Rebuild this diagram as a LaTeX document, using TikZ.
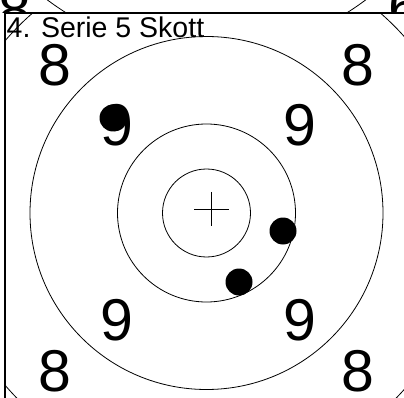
\documentclass[tikz,border=0pt]{standalone}
\usepackage{fontspec}
\setmainfont{Liberation Sans}
\begin{document}
\begin{tikzpicture}[x=1pt,y=-1pt,
  ring/.style={draw=black,line width=0.8pt},
  frameline/.style={draw=black,line width=1.3pt},
  digit/.style={inner sep=0pt,anchor=base,font=\fontsize{59}{59}\selectfont},
  shot/.style={circle,fill=black,inner sep=0pt,minimum size=27pt},
  titletext/.style={inner sep=0pt,anchor=base west,font=\fontsize{28.5}{28.5}\selectfont}]
\useasboundingbox (0,0) rectangle (404,398);
% previous panel (top strip)
\begin{scope}
  \clip (0,0) rectangle (404,13);
  \draw[ring] (206.5,-212) circle (265);
  \node[digit] (p8) at (15,31) {8};
  \node[digit] (p6) at (405,28) {6};
\end{scope}
% current panel
\coordinate (c) at (206.5,213);
\begin{scope}
  \clip (5,13) rectangle (404,398);
  \fill[white] (5,13) rectangle (404,398);
  \draw[ring] (c) circle (265);
  \draw[ring] (c) circle (176.5);
  \draw[ring] (c) circle (89);
  \draw[ring] (c) circle (44);
\end{scope}
\coordinate (xl) at (194,209);
\coordinate (xr) at (229,209);
\coordinate (xt) at (211,192);
\coordinate (xb) at (211,226);
\draw[ring] (xl) -- (xr);
\draw[ring] (xt) -- (xb);
\coordinate (f1) at (5,398);
\coordinate (f2) at (5,13);
\coordinate (f3) at (404,13);
\draw[frameline] (f1) -- (f2) -- (f3);
\node[titletext] (title) at (6.5,37.5) {4. Serie 5 Skott};
\node[digit] (e1) at (55,86) {8};
\node[digit] (e2) at (358,86) {8};
\node[digit] (n1) at (117,146) {9};
\node[digit] (n2) at (300,146) {9};
\node[digit] (n3) at (117,340) {9};
\node[digit] (n4) at (300,340) {9};
\node[digit] (e3) at (55,391) {8};
\node[digit] (e4) at (358,391) {8};
\node[shot] (s1) at (113,118) {};
\node[shot] (s2) at (283,231) {};
\node[shot] (s3) at (239,282) {};
\end{tikzpicture}
\end{document}
